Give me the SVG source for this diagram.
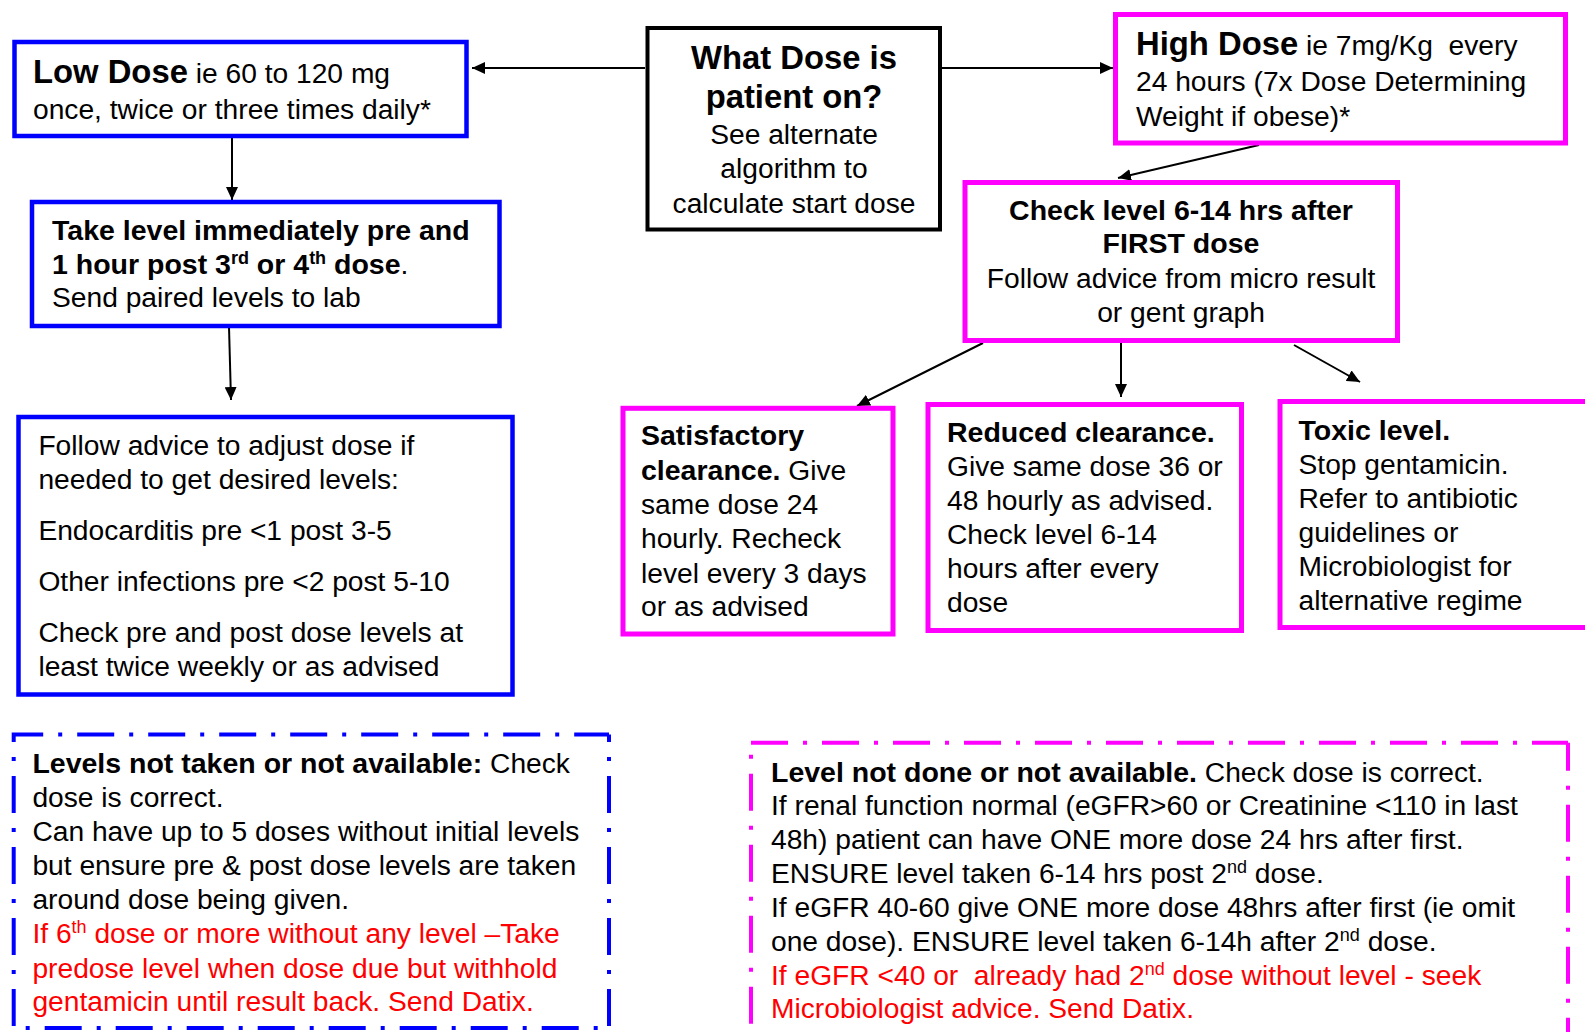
<svg xmlns="http://www.w3.org/2000/svg" width="1585" height="1032" viewBox="0 0 1585 1032">
<style>
text{font-family:"Liberation Sans",Arial,sans-serif;font-size:28.2px;fill:#000}
.b{font-weight:bold;font-size:28.5px}
.h{font-weight:bold;font-size:32.8px}
.r{fill:#FF0000}
.c{text-anchor:middle}
.sup{font-size:18px}
.blue{fill:#fff;stroke:#0000FF;stroke-width:4.5}
.mag{fill:#fff;stroke:#FF00FF;stroke-width:5}
.blk{fill:#fff;stroke:#000;stroke-width:4}
.con{stroke:#000;stroke-width:2;fill:none;marker-end:url(#ah)}
.dd{fill:none;stroke-width:4;stroke-dasharray:37 15 4 15}
</style>
<defs>
<marker id="ah" viewBox="0 0 13 12" refX="13" refY="6" markerWidth="13" markerHeight="12" orient="auto" markerUnits="userSpaceOnUse">
<path d="M0,0 L13,6 L0,12 z" fill="#000"/>
</marker>
</defs>
<rect width="1585" height="1032" fill="#fff"/>

<g id="connectors">
<path class="con" d="M645,68 H472"/>
<path class="con" d="M942,68 H1113"/>
<path class="con" d="M232,137 V200"/>
<path class="con" d="M229,327 L231,400"/>
<path class="con" d="M1259,145 L1118,178"/>
<path class="con" d="M983,343 L857,406"/>
<path class="con" d="M1121,340 V397"/>
<path class="con" d="M1294,345 L1360,382"/>
</g>

<g id="what-dose">
<rect class="blk" x="647.5" y="28" width="292.5" height="201.5"/>
<text class="c h" x="794" y="69">What Dose is</text>
<text class="c h" x="794" y="108">patient on?</text>
<text class="c" x="794" y="144">See alternate</text>
<text class="c" x="794" y="178">algorithm to</text>
<text class="c" x="794" y="213">calculate start dose</text>
</g>

<g id="low-dose">
<rect class="blue" x="14.5" y="42" width="452" height="94"/>
<text x="33" y="83"><tspan class="h">Low Dose</tspan> ie 60 to 120 mg</text>
<text x="33" y="119">once, twice or three times daily*</text>
</g>

<g id="take-level">
<rect class="blue" x="32" y="202" width="467.5" height="124"/>
<text class="b" x="52" y="240">Take level immediately pre and</text>
<text x="52" y="274"><tspan class="b">1 hour post 3<tspan class="sup" dy="-10">rd</tspan><tspan dy="10"> or 4</tspan><tspan class="sup" dy="-10">th</tspan><tspan dy="10"> dose</tspan></tspan>.</text>
<text x="52" y="307">Send paired levels to lab</text>
</g>

<g id="follow-advice">
<rect class="blue" x="18.5" y="417" width="494" height="277.5"/>
<text x="38.4" y="455">Follow advice to adjust dose if</text>
<text x="38.4" y="489">needed to get desired levels:</text>
<text x="38.4" y="540">Endocarditis pre &lt;1 post 3-5</text>
<text x="38.4" y="590.7">Other infections pre &lt;2 post 5-10</text>
<text x="38.4" y="641.7">Check pre and post dose levels at</text>
<text x="38.4" y="676">least twice weekly or as advised</text>
</g>

<g id="high-dose">
<rect class="mag" x="1115.5" y="14.5" width="450" height="128.5"/>
<text x="1136" y="55"><tspan class="h">High Dose</tspan> ie 7mg/Kg&#160; every</text>
<text x="1136" y="91">24 hours (7x Dose Determining</text>
<text x="1136" y="126">Weight if obese)*</text>
</g>

<g id="check-level">
<rect class="mag" x="965" y="182.5" width="432.5" height="158"/>
<text class="c b" x="1181" y="220">Check level 6-14 hrs after</text>
<text class="c b" x="1181" y="253">FIRST dose</text>
<text class="c" x="1181" y="288">Follow advice from micro result</text>
<text class="c" x="1181" y="322">or gent graph</text>
</g>

<g id="satisfactory">
<rect class="mag" x="623" y="408.3" width="270" height="225.7"/>
<text class="b" x="641" y="445">Satisfactory</text>
<text x="641" y="480"><tspan class="b">clearance.</tspan> Give</text>
<text x="641" y="514">same dose 24</text>
<text x="641" y="548">hourly. Recheck</text>
<text x="641" y="583">level every 3 days</text>
<text x="641" y="616">or as advised</text>
</g>

<g id="reduced">
<rect class="mag" x="928" y="404.5" width="313.5" height="226"/>
<text class="b" x="947" y="441.7">Reduced clearance.</text>
<text x="947" y="476">Give same dose 36 or</text>
<text x="947" y="510">48 hourly as advised.</text>
<text x="947" y="544">Check level 6-14</text>
<text x="947" y="578">hours after every</text>
<text x="947" y="611.7">dose</text>
</g>

<g id="toxic">
<rect class="mag" x="1280" y="401.5" width="330" height="226"/>
<text class="b" x="1298.5" y="440">Toxic level.</text>
<text x="1298.5" y="474">Stop gentamicin.</text>
<text x="1298.5" y="507.7">Refer to antibiotic</text>
<text x="1298.5" y="541.7">guidelines or</text>
<text x="1298.5" y="576">Microbiologist for</text>
<text x="1298.5" y="610">alternative regime</text>
</g>

<g id="levels-not-taken">
<rect x="13.7" y="734.5" width="595.3" height="293.5" fill="#fff"/>
<path class="dd" stroke="#0000FF" d="M13.7,742 V734.5 H609"/>
<path class="dd" stroke="#0000FF" stroke-dashoffset="29.5" d="M609,734.5 V1032"/>
<path class="dd" stroke="#0000FF" stroke-dashoffset="40" d="M13.7,1028 H609"/>
<path class="dd" stroke="#0000FF" stroke-dashoffset="37" d="M13.7,742 V1032"/>
<text x="32.4" y="773"><tspan class="b">Levels not taken or not available:</tspan> Check</text>
<text x="32.4" y="806.7">dose is correct.</text>
<text x="32.4" y="841">Can have up to 5 doses without initial levels</text>
<text x="32.4" y="875">but ensure pre &amp; post dose levels are taken</text>
<text x="32.4" y="909">around dose being given.</text>
<text class="r" x="32.4" y="943">If 6<tspan class="sup" dy="-10">th</tspan><tspan dy="10"> dose or more without any level –Take</tspan></text>
<text class="r" x="32.4" y="977.7">predose level when dose due but withhold</text>
<text class="r" x="32.4" y="1011">gentamicin until result back. Send Datix.</text>
</g>

<g id="level-not-done">
<rect x="751" y="742.7" width="817" height="300" fill="#fff"/>
<path class="dd" stroke="#FF00FF" d="M751,742.7 H1568"/>
<path class="dd" stroke="#FF00FF" stroke-dashoffset="40" d="M751,742.7 V1040"/>
<path class="dd" stroke="#FF00FF" stroke-dashoffset="9" d="M1568,742.7 V1040"/>
<text x="771" y="781.7"><tspan class="b">Level not done or not available.</tspan> Check dose is correct.</text>
<text x="771" y="815">If renal function normal (eGFR&gt;60 or Creatinine &lt;110 in last</text>
<text x="771" y="849">48h) patient can have ONE more dose 24 hrs after first.</text>
<text x="771" y="883">ENSURE level taken 6-14 hrs post 2<tspan class="sup" dy="-10">nd</tspan><tspan dy="10"> dose.</tspan></text>
<text x="771" y="917">If eGFR 40-60 give ONE more dose 48hrs after first (ie omit</text>
<text x="771" y="950.7">one dose). ENSURE level taken 6-14h after 2<tspan class="sup" dy="-10">nd</tspan><tspan dy="10"> dose.</tspan></text>
<text class="r" x="771" y="985">If eGFR &lt;40 or&#160; already had 2<tspan class="sup" dy="-10">nd</tspan><tspan dy="10"> dose without level - seek</tspan></text>
<text class="r" x="771" y="1018">Microbiologist advice. Send Datix.</text>
</g>
</svg>
